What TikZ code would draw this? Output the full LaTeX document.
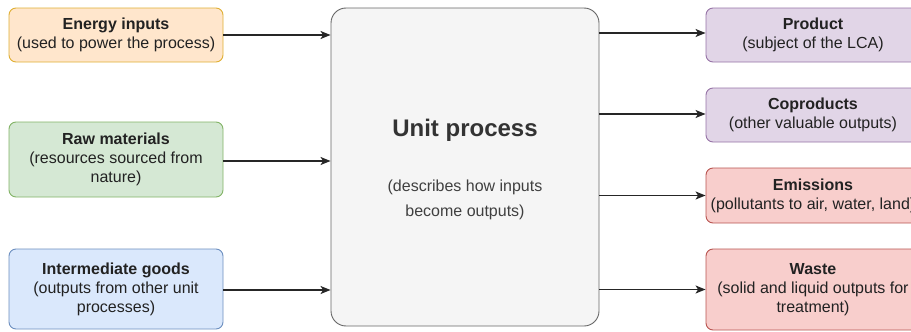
\documentclass[tikz,border=0pt]{standalone}
\usepackage{fontspec}
\setmainfont{Liberation Sans}
\usetikzlibrary{arrows.meta,calc}
\definecolor{orfill}{HTML}{FFE6CC}\definecolor{ordraw}{HTML}{D79B00}
\definecolor{grfill}{HTML}{D5E8D4}\definecolor{grdraw}{HTML}{82B366}
\definecolor{blfill}{HTML}{DAE8FC}\definecolor{bldraw}{HTML}{6C8EBF}
\definecolor{pufill}{HTML}{E1D5E7}\definecolor{pudraw}{HTML}{9673A6}
\definecolor{rdfill}{HTML}{F8CECC}\definecolor{rddraw}{HTML}{B85450}
\definecolor{gyfill}{HTML}{F5F5F5}\definecolor{gydraw}{HTML}{666666}
\definecolor{txt}{HTML}{222222}
\tikzset{
  box/.style={draw, line width=0.9pt, rounded corners=7pt, minimum width=214pt,
    align=center, inner sep=0pt, text=txt,
    font=\fontsize{16}{19}\selectfont},
  ebox/.style={box, fill=orfill, draw=ordraw!80},
  gbox/.style={box, fill=grfill, draw=grdraw},
  bbox/.style={box, fill=blfill, draw=bldraw},
  pbox/.style={box, fill=pufill, draw=pudraw},
  rbox/.style={box, fill=rdfill, draw=rddraw},
  ubox/.style={draw=gydraw, fill=gyfill, line width=0.9pt, rounded corners=15pt,
    minimum width=268pt, minimum height=318pt, inner sep=0pt},
  flow/.style={line width=1.2pt, draw=black!85, -{Stealth[length=10pt,width=8pt,inset=2.5pt]}}
}
\begin{document}
\begin{tikzpicture}[x=1pt,y=-1pt]
\useasboundingbox (0,0) rectangle (911,332);
\clip (0,0) rectangle (911,332);
% inputs
\node[ebox, minimum height=54pt] (energy) at (116,35) {\textbf{Energy inputs}\\(used to power the process)};
\node[gbox, minimum height=75pt] (raw) at (116,159.5) {\textbf{Raw materials}\\(resources sourced from\\nature)};
\node[bbox, minimum height=80pt] (inter) at (116,289) {\textbf{Intermediate goods}\\(outputs from other unit\\processes)};
% unit process
\node[ubox] (unit) at (465,167) {};
\node[font=\fontsize{24}{28}\selectfont\bfseries, text=black!80] (utitle) at (465,130) {Unit process};
\node[font=\fontsize{16}{25}\selectfont, text=black!75, align=center] (usub) at (465,199.5) {(describes how inputs\\become outputs)};
% outputs
\node[pbox, minimum height=54pt] (prod) at (813,35) {\textbf{Product}\\(subject of the LCA)};
\node[pbox, minimum height=54pt] (coprod) at (813,115) {\textbf{Coproducts}\\(other valuable outputs)};
\node[rbox, minimum height=55pt] (emis) at (813,195.5) {\textbf{Emissions}\\(pollutants to air, water, land)};
\node[rbox, minimum height=81pt] (waste) at (813,289.5) {\textbf{Waste}\\(solid and liquid outputs for\\treatment)};
% connectors
\draw[flow] (energy.east) -- (energy.east -| unit.west);
\draw[flow] ($(raw.east)+(0,1.5)$) -- ($(raw.east -| unit.west)+(0,1.5)$);
\draw[flow] ($(inter.east)+(0,1)$) -- ($(inter.east -| unit.west)+(0,1)$);
\draw[flow] ($(unit.east |- prod.west)+(0,-2)$) -- ($(prod.west)+(0,-2)$);
\draw[flow] ($(unit.east |- coprod.west)+(0,-1)$) -- ($(coprod.west)+(0,-1)$);
\draw[flow] (unit.east |- emis.west) -- (emis.west);
\draw[flow] (unit.east |- waste.west) -- (waste.west);
\end{tikzpicture}
\end{document}
